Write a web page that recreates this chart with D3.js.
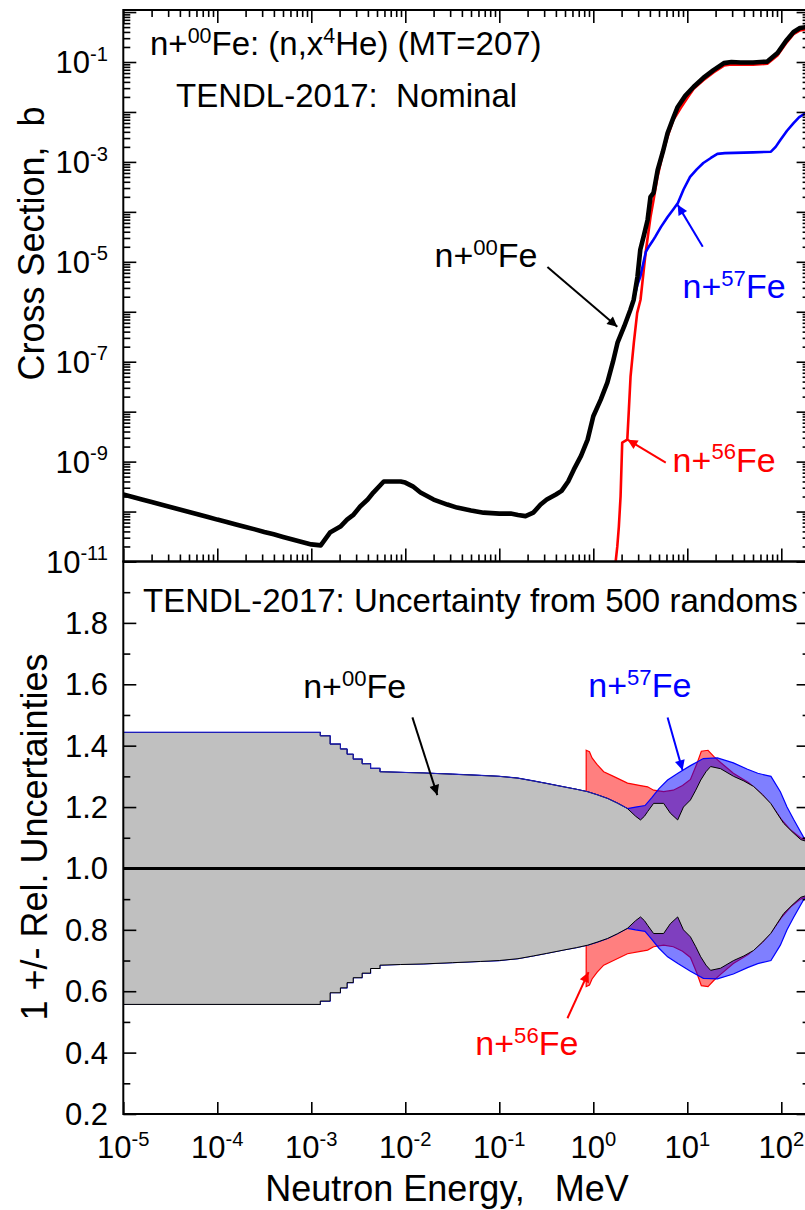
<!DOCTYPE html>
<html><head><meta charset="utf-8">
<script src="https://cdn.jsdelivr.net/npm/d3@7"></script>
<style>
body{margin:0;background:#fff;}
text{font-family:"Liberation Sans",Arial,sans-serif;white-space:pre;}
</style>
</head><body>
<svg id="c" width="805" height="1210"></svg>
<script>
// ---------------- DATA ----------------
// n+00Fe (natural Fe) (n,x4He) cross section, MeV / barn
const natFeE = [1e-5,1.26e-5,1.58e-5,2e-5,2.51e-5,3.16e-5,3.98e-5,5.01e-5,6.31e-5,7.94e-5,1e-4,1.26e-4,1.58e-4,2e-4,2.51e-4,3.16e-4,3.98e-4,5.01e-4,6.31e-4,7.94e-4,1e-3,1.26e-3,1.58e-3,2.04e-3,2.4e-3,2.82e-3,3.31e-3,3.98e-3,4.57e-3,5.9e-3,8.9e-3,1e-2,1.2e-2,1.45e-2,2e-2,2.8e-2,3.55e-2,5e-2,6.8e-2,0.1,0.132,0.158,0.19,0.23,0.275,0.32,0.40,0.46,0.54,0.62,0.74,0.87,1.0,1.2,1.41,1.62,1.81,2.14,2.48,2.69,2.95,3.16,3.47,3.78,4.06,4.37,4.84,5.5,6.17,7.1,7.9,9.5,11.7,14.8,19.0,24.5,29.5,37,50,71,91,112,135,158,182,200];
const natFeXS = [2.19e-10,1.95e-10,1.74e-10,1.55e-10,1.38e-10,1.23e-10,1.10e-10,9.8e-11,8.7e-11,7.8e-11,6.9e-11,6.2e-11,5.5e-11,4.9e-11,4.4e-11,3.9e-11,3.5e-11,3.1e-11,2.75e-11,2.45e-11,2.2e-11,2.1e-11,3.8e-11,5.0e-11,6.9e-11,8.7e-11,1.26e-10,1.74e-10,2.4e-10,4.0e-10,4.0e-10,3.8e-10,3.2e-10,2.4e-10,1.74e-10,1.38e-10,1.2e-10,1.05e-10,9.5e-11,9.1e-11,9.1e-11,8.5e-11,8.1e-11,9.5e-11,1.38e-10,1.74e-10,2.2e-10,2.6e-10,4.0e-10,6.9e-10,1.3e-9,2.75e-9,8.1e-9,1.74e-8,3.8e-8,1.0e-7,2.4e-7,5.2e-7,1.1e-6,1.74e-6,5.0e-6,1.74e-5,3.5e-5,6.9e-5,2.0e-4,2.4e-4,6.9e-4,1.6e-3,3.8e-3,7.6e-3,1.26e-2,2.1e-2,3.2e-2,4.8e-2,6.9e-2,9.5e-2,0.1,9.8e-2,9.8e-2,0.102,0.151,0.263,0.40,0.48,0.50,0.50];
// n+56Fe
const fe56E = [1.68,1.73,1.80,1.87,1.95,2.03,2.30,2.39,2.49,2.70,2.93,3.18,3.60,4.06,4.38,4.82,5.5,6.17,7.1,8.5,10,11.7,14.8,19.0,24.5,29.5,37,50,71,91,112,135,158,182,200];
const fe56XS = [1e-12,1.0e-11,2.0e-11,5.0e-11,2.0e-10,2.4e-9,2.75e-9,1.1e-8,5.0e-8,2.4e-7,9.5e-7,1.74e-6,1.5e-5,7.9e-5,1.74e-4,5.0e-4,1.5e-3,3.2e-3,6.9e-3,1.2e-2,1.9e-2,2.9e-2,4.3e-2,6.2e-2,8.5e-2,8.9e-2,8.8e-2,8.8e-2,9.2e-2,0.135,0.235,0.36,0.43,0.45,0.45];
// n+57Fe (identical to n+00Fe up to 2.69 MeV), part above
const fe57SplitE = 2.69;
const fe57E = [2.95,3.16,3.43,3.63,3.89,4.27,4.57,5.25,6.17,7.08,7.94,9.12,10.7,12.6,14.8,17.8,20.9,25.1,50.1,77.6,87.1,97.7,115,135,155,182,200];
const fe57XS = [3.5e-6,5e-6,1e-5,1.6e-5,2.0e-5,2.6e-5,3.2e-5,5.0e-5,7.9e-5,1.12e-4,1.5e-4,2.8e-4,5.0e-4,7.1e-4,9.5e-4,1.2e-3,1.45e-3,1.5e-3,1.55e-3,1.6e-3,2.0e-3,2.75e-3,4.2e-3,6.0e-3,7.9e-3,9.5e-3,1.0e-2];

// relative uncertainties (band = 1 +/- u); repeated energies are histogram steps
const uncNatE = [1e-5,1.245e-3,1.245e-3,1.585e-3,1.585e-3,2.04e-3,2.04e-3,2.4e-3,2.4e-3,2.79e-3,2.79e-3,3.47e-3,3.47e-3,4.27e-3,4.27e-3,5.37e-3,5.37e-3,8.9e-3,1.58e-2,3.16e-2,6.3e-2,0.1,0.158,0.23,0.316,0.50,0.66,0.87,1.1,1.42,1.8,2.31,2.82,3.18,3.5,3.78,4.38,5.6,6.6,7.9,9.1,10.8,12.3,13.9,15.8,17.7,22.6,31.1,40,50.8,63,77.1,90,106,130,161,200];
const uncNatU = [0.443,0.443,0.432,0.432,0.405,0.405,0.389,0.389,0.372,0.372,0.356,0.356,0.341,0.341,0.326,0.326,0.315,0.313,0.311,0.307,0.303,0.30,0.294,0.285,0.277,0.265,0.258,0.25,0.24,0.228,0.213,0.195,0.17,0.158,0.17,0.185,0.212,0.212,0.18,0.158,0.20,0.223,0.255,0.288,0.315,0.332,0.325,0.30,0.285,0.267,0.24,0.212,0.18,0.147,0.12,0.094,0.085];
const unc56E = [0.84,0.91,0.97,1.10,1.29,1.64,2.31,3.18,3.78,4.38,5.6,7.1,8.9,10.8,12.6,14.1,16.6,19.1,22.6,30.9,44.7,63.1,79.4,100,126,160,200];
const unc56U = [0.385,0.38,0.36,0.338,0.315,0.30,0.278,0.27,0.266,0.255,0.25,0.255,0.27,0.29,0.34,0.382,0.385,0.365,0.345,0.31,0.28,0.24,0.205,0.16,0.125,0.10,0.088];
const unc57SplitE = 2.31; // identical to n+00Fe below this energy
const unc57E = [2.82,3.55,4.17,5.0,6.17,7.94,10.8,14.8,20.9,30.9,43.7,56.2,77.6,97.7,115,135,174,200];
const unc57U = [0.20,0.205,0.23,0.26,0.288,0.31,0.335,0.358,0.36,0.344,0.323,0.31,0.30,0.25,0.20,0.16,0.10,0.09];

const xTickExps = [-5,-4,-3,-2,-1,0,1,2];
const yTopLabelExps = [-1,-3,-5,-7,-9,-11];
const yBotLabels = [0.2,0.4,0.6,0.8,1.0,1.2,1.4,1.6,1.8];

// ---------------- SETUP ----------------
const zip = (a,b,k1,k2)=>a.slice(0,Math.min(a.length,b.length)).map((v,i)=>({[k1]:v,[k2]:b[i]}));
const natFe = zip(natFeE,natFeXS,"e","s");
const fe56 = zip(fe56E,fe56XS,"e","s");
const fe57 = natFe.filter(d=>d.e<=fe57SplitE).concat(zip(fe57E,fe57XS,"e","s"));
const uNat = zip(uncNatE,uncNatU,"e","u");
const u56 = zip(unc56E,unc56U,"e","u");
const u57 = uNat.filter(d=>d.e<=unc57SplitE).concat(zip(unc57E,unc57U,"e","u"));

const L=123.3, R=809.6, T1=10, B1=561.5, T2=561.5, B2=1114;
const x = d3.scaleLog().domain([1e-5,200]).range([L,R]);
const yT = d3.scaleLog().domain([1e-11,1.1]).range([B1,T1]);
const yB = d3.scaleLinear().domain([0.2,2.0]).range([B2,T2]);

const svg = d3.select("#c");
const defs = svg.append("defs");
defs.append("clipPath").attr("id","cpT").append("rect").attr("x",L).attr("y",T1).attr("width",R-L).attr("height",B1-T1);
defs.append("clipPath").attr("id","cpB").append("rect").attr("x",L).attr("y",T2).attr("width",R-L).attr("height",B2-T2);
const colors = {nat:"#000000", fe56:"#ff0000", fe57:"#0000ff"};
Object.entries(colors).forEach(([k,c])=>{
  defs.append("marker").attr("id","ah-"+k).attr("viewBox","0 0 10 10").attr("refX",10).attr("refY",5)
    .attr("markerWidth",16).attr("markerHeight",10).attr("markerUnits","userSpaceOnUse").attr("orient","auto")
    .append("path").attr("d","M0,0L10,5L0,10z").attr("fill",c);
});

// ---------------- BOTTOM PANEL BANDS ----------------
const gB = svg.append("g").attr("clip-path","url(#cpB)");
const band = d3.area().x(d=>x(d.e)).y0(d=>yB(1-d.u)).y1(d=>yB(1+d.u)).curve(d3.curveLinear);
const upper = d3.line().x(d=>x(d.e)).y(d=>yB(1+d.u)).curve(d3.curveLinear);
gB.append("path").datum(u56).attr("d",band).attr("fill","rgba(255,0,0,0.5)").attr("stroke","#ff0000").attr("stroke-width",1.2);
gB.append("path").datum(u57).attr("d",band).attr("fill","rgba(0,0,255,0.5)").attr("stroke","#0000ff").attr("stroke-width",1.2);
gB.append("path").datum(uNat).attr("d",band).attr("fill","#c0c0c0").attr("stroke","#000").attr("stroke-width",1);
gB.append("path").datum(u57.filter(d=>d.e<=unc57SplitE)).attr("d",upper).attr("fill","none").attr("stroke","#2020c0").attr("stroke-width",1);
gB.append("line").attr("x1",L).attr("x2",R).attr("y1",yB(1)).attr("y2",yB(1)).attr("stroke","#000").attr("stroke-width",3);

// ---------------- TOP PANEL CURVES ----------------
const gT = svg.append("g").attr("clip-path","url(#cpT)");
const line = d3.line().x(d=>x(d.e)).y(d=>yT(d.s)).curve(d3.curveLinear);
gT.append("path").datum(fe56).attr("d",line).attr("fill","none").attr("stroke","#ff0000").attr("stroke-width",2.6).attr("stroke-linejoin","round");
gT.append("path").datum(fe57).attr("d",line).attr("fill","none").attr("stroke","#0000ff").attr("stroke-width",2.6).attr("stroke-linejoin","round");
gT.append("path").datum(natFe).attr("d",line).attr("fill","none").attr("stroke","#000").attr("stroke-width",4.6).attr("stroke-linejoin","round");

// ---------------- AXES / TICKS ----------------
const xMajor = xTickExps.map(e=>Math.pow(10,e));
const xMinor = [];
xTickExps.forEach(e=>{ for(let k=2;k<=9;k++){ const v=k*Math.pow(10,e); if(v<200) xMinor.push(v);} });
const yTMajor = d3.range(-11,1).map(e=>Math.pow(10,e));
const yTMinor = [];
d3.range(-11,0).forEach(e=>{ for(let k=2;k<=9;k++) yTMinor.push(k*Math.pow(10,e)); });
const yBMajor = yBotLabels.concat([2.0]);
const yBMinor = d3.range(3,20,2).map(v=>v/10);

function ticks(axis, vals, size, tx, ty){
  const g = svg.append("g").attr("transform",`translate(${tx},${ty})`)
    .call(axis.tickValues(vals).tickSize(size).tickSizeOuter(0).tickFormat(""));
  g.select(".domain").remove();
  g.selectAll("line").attr("stroke","#000").attr("stroke-width",1.6);
}
const MJ=-13, MN=-7;
// top panel
ticks(d3.axisLeft(yT), yTMajor, MJ, L, 0);
ticks(d3.axisLeft(yT), yTMinor, MN, L, 0);
ticks(d3.axisRight(yT), yTMajor, MJ, R, 0);
ticks(d3.axisRight(yT), yTMinor, MN, R, 0);
ticks(d3.axisTop(x), xMajor, MJ, 0, T1);
ticks(d3.axisTop(x), xMinor, MN, 0, T1);
ticks(d3.axisBottom(x), xMajor, MJ, 0, B1);
ticks(d3.axisBottom(x), xMinor, MN, 0, B1);
// bottom panel
ticks(d3.axisLeft(yB), yBMajor, MJ, L, 0);
ticks(d3.axisLeft(yB), yBMinor, MN, L, 0);
ticks(d3.axisRight(yB), yBMajor, MJ, R, 0);
ticks(d3.axisRight(yB), yBMinor, MN, R, 0);
ticks(d3.axisBottom(x), xMajor, -12, 0, B2);

// frames
svg.append("rect").attr("x",L).attr("y",T1).attr("width",R-L).attr("height",B1-T1).attr("fill","none").attr("stroke","#000").attr("stroke-width",2);
svg.append("rect").attr("x",L).attr("y",T2).attr("width",R-L).attr("height",B2-T2).attr("fill","none").attr("stroke","#000").attr("stroke-width",2);

// ---------------- TEXT ----------------
function rich(x0,y0,parts,size,color,anchor,supScale,raise){
  supScale = supScale||0.65; raise = raise||0.38;
  const t = svg.append("text").attr("x",x0).attr("y",y0).attr("font-size",size).attr("fill",color).attr("text-anchor",anchor||"start");
  let up=false;
  parts.forEach(p=>{
    const ts=t.append("tspan").text(p[0]);
    if(p[1] && !up){ ts.attr("font-size",size*supScale).attr("dy",-size*raise); up=true; }
    else if(!p[1] && up){ ts.attr("dy",size*raise); up=false; }
  });
  return t;
}
// tick labels
yTopLabelExps.forEach(e=>rich(108, yT(Math.pow(10,e))+11, [["10"],[String(e),1]], 31, "#000","end",0.65,0.4));
yBotLabels.forEach(v=>svg.append("text").attr("x",108).attr("y",yB(v)+11).attr("font-size",31).attr("text-anchor","end").text(v.toFixed(1)));
xTickExps.forEach(e=>rich(x(Math.pow(10,e)), 1158, [["10"],[String(e),1]], 31, "#000","middle",0.65,0.4));

// axis titles
svg.append("text").attr("transform","translate(44,243.5) rotate(-90)").attr("text-anchor","middle").attr("font-size",36).text("Cross Section,  b");
svg.append("text").attr("transform","translate(47,837) rotate(-90)").attr("text-anchor","middle").attr("font-size",36).text("1 +/- Rel. Uncertainties");
svg.append("text").attr("x",447).attr("y",1201).attr("text-anchor","middle").attr("font-size",36).text("Neutron Energy,   MeV");

// panel titles
rich(150,55,[["n+"],["00",1],["Fe: (n,x"],["4",1],["He) (MT=207)"]],33,"#000","start",0.65,0.36);
svg.append("text").attr("x",176).attr("y",107).attr("font-size",33).text("TENDL-2017:  Nominal");
svg.append("text").attr("x",143).attr("y",612).attr("font-size",33).text("TENDL-2017: Uncertainty from 500 randoms");

// annotations (data coordinates)
const topNotes = [
  {key:"nat", parts:[["n+"],["00",1],["Fe"]], anchor:"end", tx:0.255, ty:7.9e-6, ax:0.325, ay:7.9e-6, bx:1.80, by:5.0e-7},
  {key:"fe57", parts:[["n+"],["57",1],["Fe"]], anchor:"start", tx:8.9, ty:1.9e-6, ax:14.6, ay:2.0e-5, bx:7.9, by:1.38e-4},
  {key:"fe56", parts:[["n+"],["56",1],["Fe"]], anchor:"start", tx:6.98, ty:6.3e-10, ax:5.9, ay:9.5e-10, bx:2.31, by:2.75e-9}
];
const botNotes = [
  {key:"nat", parts:[["n+"],["00",1],["Fe"]], anchor:"start", tx:8.2e-4, ty:1.554, ax:0.0119, ay:1.492, bx:0.0219, by:1.239},
  {key:"fe57", parts:[["n+"],["57",1],["Fe"]], anchor:"start", tx:0.885, ty:1.557, ax:6.17, ay:1.492, bx:8.9, by:1.32},
  {key:"fe56", parts:[["n+"],["56",1],["Fe"]], anchor:"start", tx:0.0556, ty:0.392, ax:0.531, ay:0.512, bx:0.889, by:0.662}
];
function note(n, ys){
  const c = colors[n.key];
  svg.append("line").attr("x1",x(n.ax)).attr("y1",ys(n.ay)).attr("x2",x(n.bx)).attr("y2",ys(n.by))
    .attr("stroke",c).attr("stroke-width",2).attr("marker-end",`url(#ah-${n.key})`);
  rich(x(n.tx), ys(n.ty), n.parts, 34, c, n.anchor, 0.65, 0.36);
}
topNotes.forEach(n=>note(n,yT));
botNotes.forEach(n=>note(n,yB));
</script>
</body></html>
